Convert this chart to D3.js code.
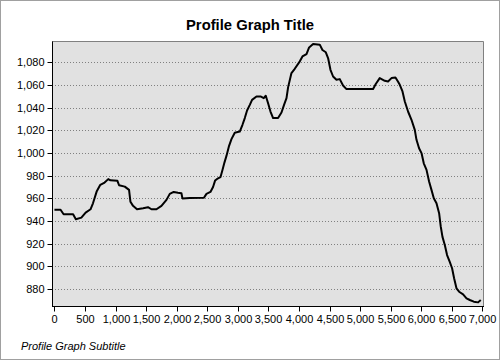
<!DOCTYPE html>
<html>
<head>
<meta charset="utf-8">
<script src="https://cdn.jsdelivr.net/npm/d3@7"></script>
<style>
  html, body { margin: 0; padding: 0; background: #fff; }
  svg { display: block; }
  text { font-family: "Liberation Sans", Arial, sans-serif; fill: #000; }
</style>
</head>
<body>
<svg id="chart" width="500" height="360"></svg>
<script>
const distances = [0,100,150,305,350,440,510,590,630,690,750,820,880,915,1030,1057,1150,1220,1243,1285,1350,1450,1530,1586,1668,1750,1832,1886,1950,2020,2077,2093,2213,2445,2486,2551,2594,2627,2660,2715,2748,2780,2813,2856,2895,2949,3031,3075,3113,3150,3195,3232,3304,3370,3423,3456,3494,3533,3576,3657,3713,3755,3795,3821,3876,3930,4013,4056,4122,4165,4230,4339,4383,4438,4475,4514,4557,4612,4666,4720,4776,5211,5255,5320,5402,5456,5512,5577,5620,5648,5692,5730,5783,5839,5893,5921,5963,6003,6040,6085,6127,6166,6204,6248,6291,6318,6346,6384,6421,6465,6503,6536,6575,6618,6683,6739,6793,6858,6928,6972];
const elevations = [950,950,946,946,941.6,943,947.5,950.4,955.7,966,972,974,977,976,975.5,971.6,970.4,967.5,957,953.4,950.4,951.3,952.2,950.4,950.4,953.4,958.7,964,965.7,965,964.5,960,960.4,960.5,964,965.7,970,975.7,977.2,978.7,985,991.6,997.5,1006.4,1012.3,1018,1019,1025,1030.9,1037.6,1042.6,1047,1050,1050,1048.5,1050.6,1044,1036.7,1030.9,1030.9,1035.8,1042.6,1048.5,1058,1070.6,1074.4,1081,1085.3,1087.4,1093.3,1096.3,1095.7,1091,1089,1083.9,1073.5,1067.6,1064.7,1065.3,1059.7,1056.5,1056.5,1061,1066.2,1063.8,1063.2,1066.2,1066.8,1063,1060.3,1054.4,1045.5,1036.7,1029.4,1020.5,1011.7,1004.3,1000,991,985.2,974.9,967.5,960.2,955.7,946.9,935,926,918.9,910,904,898.3,889.5,880.6,877.6,875.3,871.8,870.3,868.8,868.2,870.3];
const xTicks = [0,500,1000,1500,2000,2500,3000,3500,4000,4500,5000,5500,6000,6500,7000];
const yTicks = [880,900,920,940,960,980,1000,1020,1040,1060,1080];
const title = "Profile Graph Title";
const subtitle = "Profile Graph Subtitle";

const svg = d3.select("#chart");
const L = 52, R = 484, T = 41.5, B = 306;

const x = d3.scaleLinear().domain([-40, 7025]).range([L, R]);
const y = d3.scaleLinear().domain([865, 1098.5]).range([B, T]);

// outer frame
svg.append("rect").attr("x", 0.5).attr("y", 0.5).attr("width", 499).attr("height", 359)
  .attr("fill", "#fff").attr("stroke", "#a0a0a0").attr("stroke-width", 1);

// plot background
svg.append("rect").attr("x", L).attr("y", T).attr("width", R - L).attr("height", B - T)
  .attr("fill", "#e1e1e1");

// grid
svg.append("g").selectAll("line").data(yTicks).join("line")
  .attr("x1", L).attr("x2", R)
  .attr("y1", d => Math.round(y(d)) + 0.5).attr("y2", d => Math.round(y(d)) + 0.5)
  .attr("stroke", "#808080").attr("stroke-width", 1).attr("stroke-dasharray", "1,2");

// plot top/right border
svg.append("path")
  .attr("d", `M${L},${T}H${R - 0.5}V${B}`)
  .attr("fill", "none").attr("stroke", "#808080").attr("stroke-width", 1);

// line
const line = d3.line().x((d, i) => x(distances[i])).y(d => y(d));
svg.append("path").datum(elevations)
  .attr("d", line)
  .attr("fill", "none").attr("stroke", "#000").attr("stroke-width", 2)
  .attr("stroke-linejoin", "round");

// y axis
const yAxis = d3.axisLeft(y).tickValues(yTicks).tickSize(5).tickPadding(3).tickFormat(d3.format(","));
const gy = svg.append("g").attr("transform", `translate(${L + 0.5},0)`).call(yAxis);
gy.select(".domain").attr("d", `M0,${T}V${B + 0.5}`).attr("stroke", "#000");
gy.selectAll(".tick").attr("transform", d => `translate(0,${Math.round(y(d)) + 0.5})`);
gy.selectAll(".tick line").attr("stroke", "#000");
gy.selectAll(".tick text").attr("font-family", "Liberation Sans, Arial, sans-serif")
  .attr("font-size", 11).attr("dy", "0.35em");

// x axis
const xAxis = d3.axisBottom(x).tickValues(xTicks).tickSize(5).tickPadding(4).tickFormat(d3.format(","));
const gx = svg.append("g").attr("transform", `translate(0,${B + 0.5})`).call(xAxis);
gx.select(".domain").attr("d", `M${L},0H${R}`).attr("stroke", "#000");
gx.selectAll(".tick").attr("transform", d => `translate(${Math.round(x(d)) + 0.5},0)`);
gx.selectAll(".tick line").attr("stroke", "#000");
gx.selectAll(".tick text").attr("font-family", "Liberation Sans, Arial, sans-serif")
  .attr("font-size", 11);

// title
svg.append("text").attr("x", 250).attr("y", 29.5).attr("text-anchor", "middle")
  .attr("font-size", 14.8).attr("font-weight", "bold").text(title);

// subtitle
svg.append("text").attr("x", 21).attr("y", 350)
  .attr("font-size", 11).attr("font-style", "italic").text(subtitle);
</script>
</body>
</html>
